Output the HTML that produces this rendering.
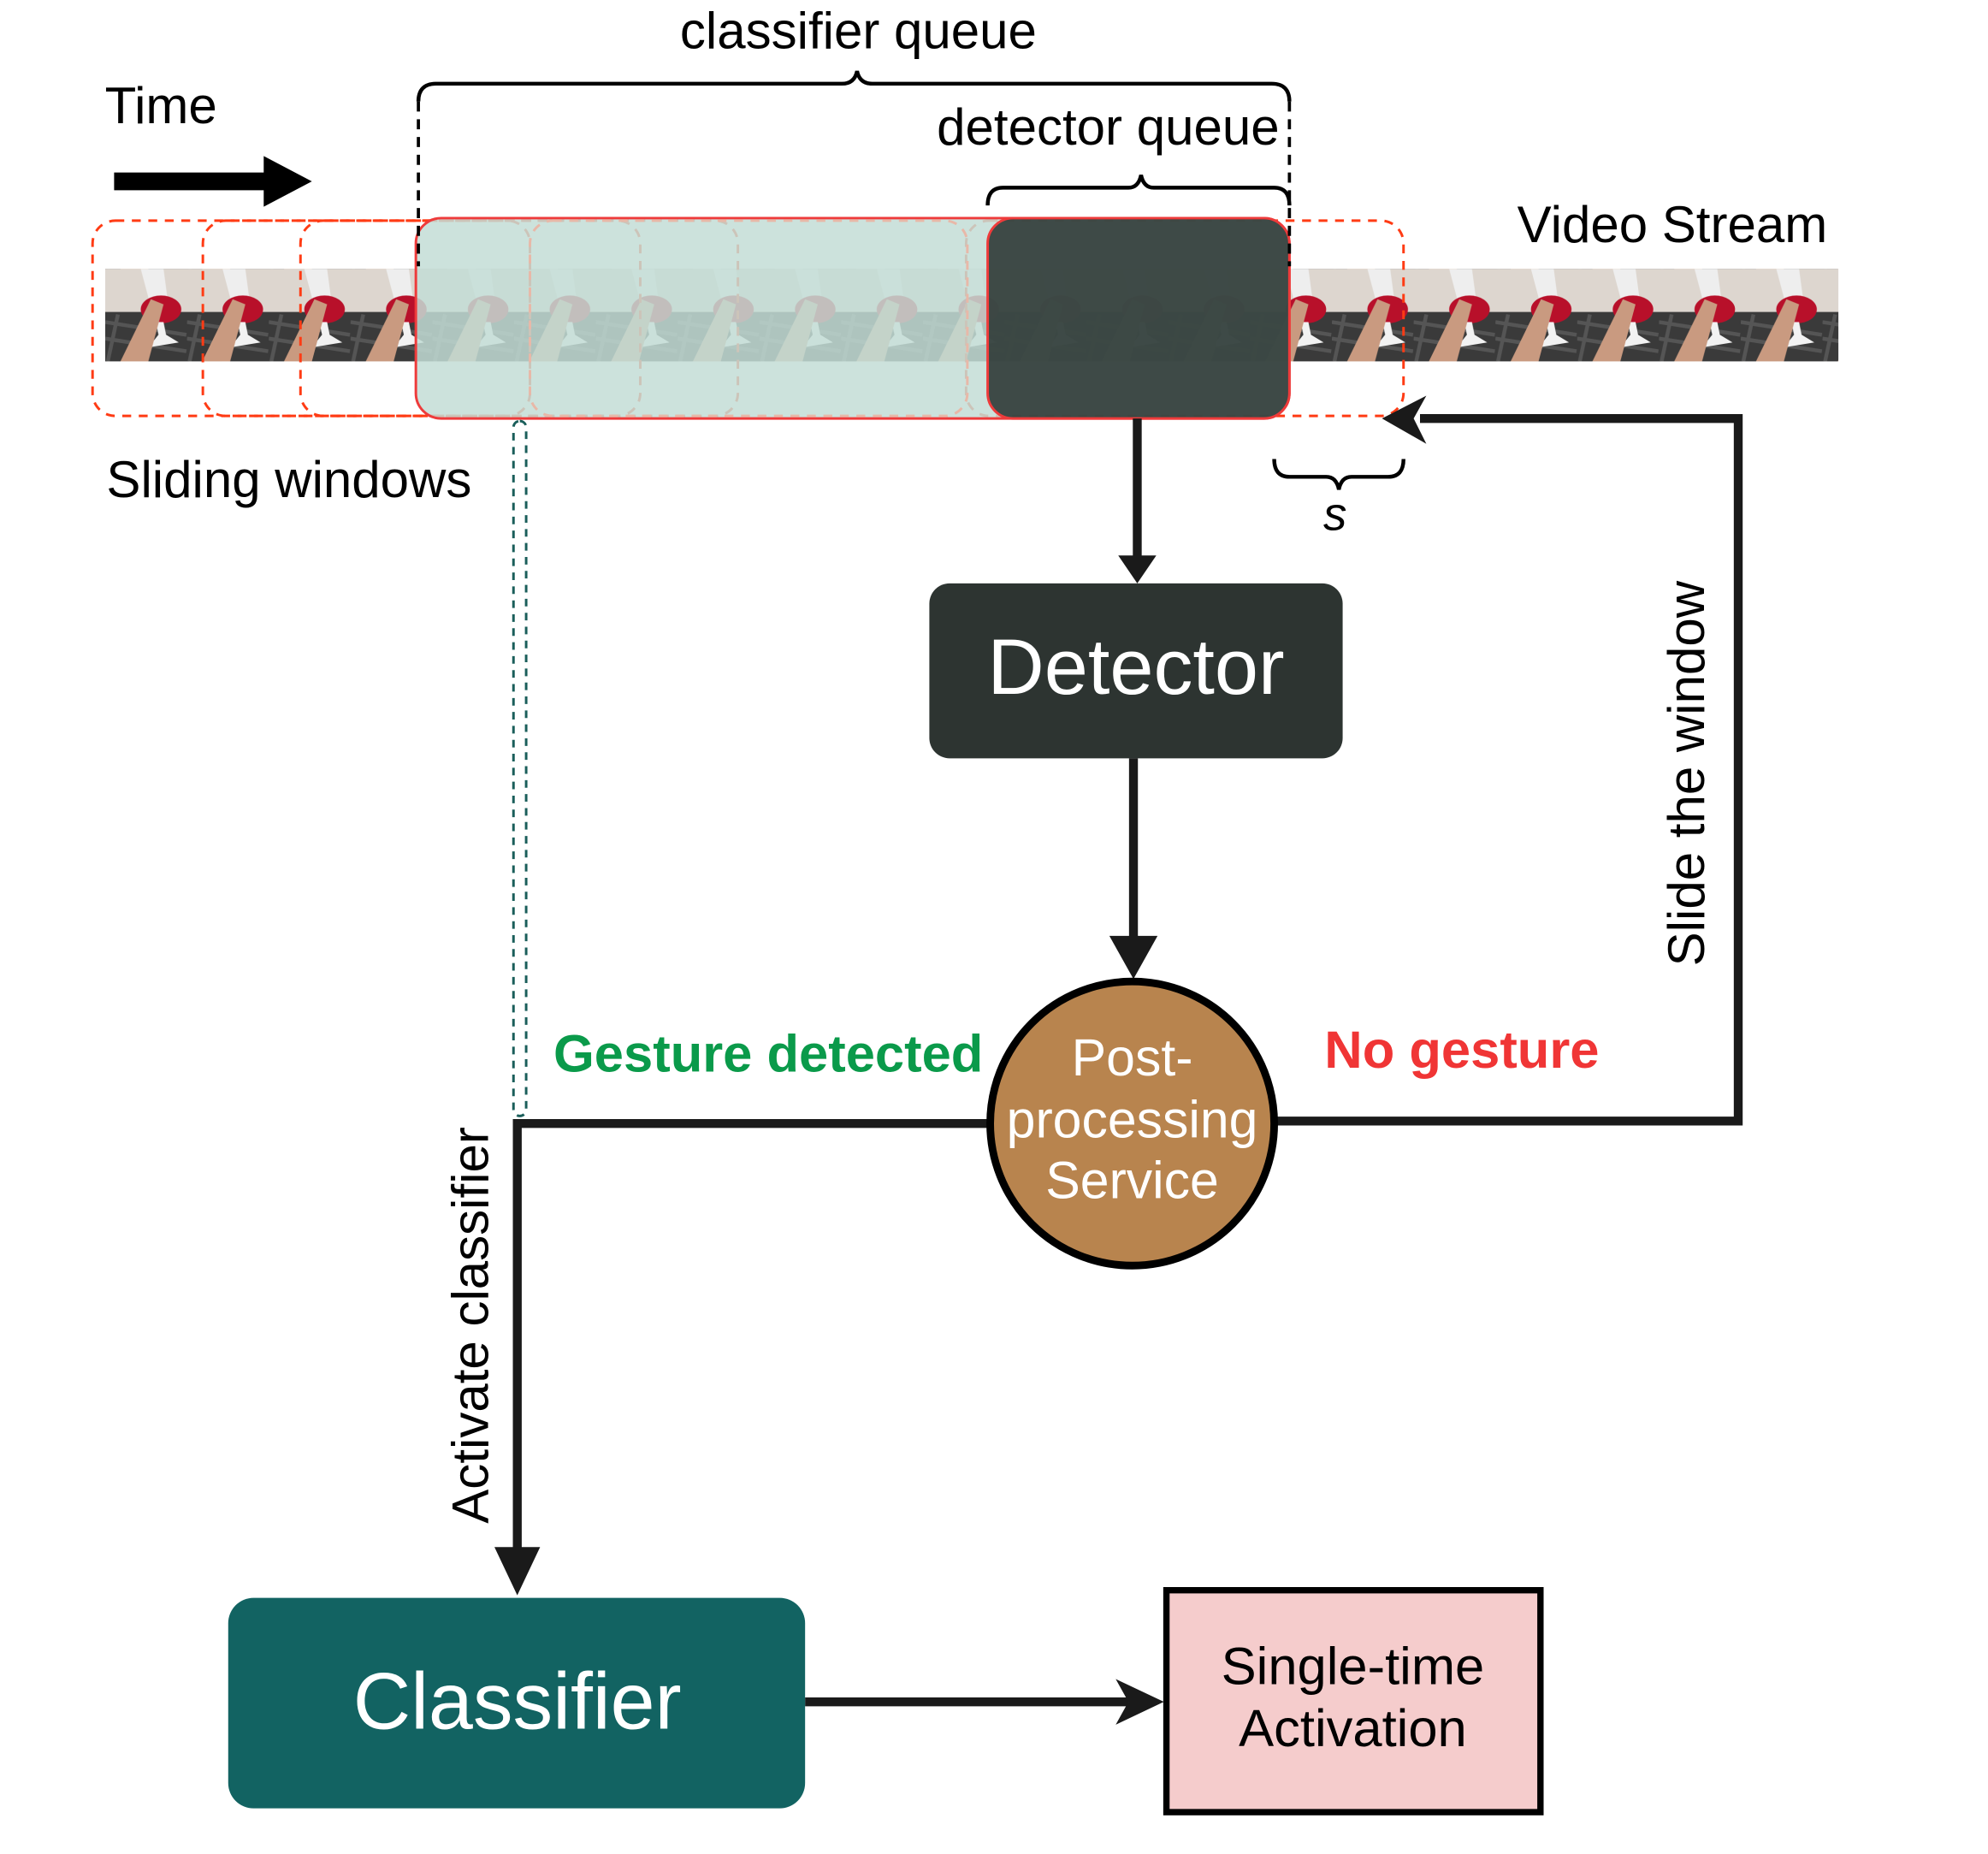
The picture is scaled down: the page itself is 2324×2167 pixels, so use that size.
<!DOCTYPE html>
<html><head><meta charset="utf-8"><style>
html,body{margin:0;padding:0;background:#fff;}
svg{display:block;}
text{font-family:"Liberation Sans",Arial,sans-serif;}
</style></head><body>
<svg width="2324" height="2167" viewBox="0 0 1568 1462" preserveAspectRatio="none" xmlns="http://www.w3.org/2000/svg">
<defs>
<pattern id="fr" x="83" y="212" width="64.5" height="73" patternUnits="userSpaceOnUse">
<rect width="64.5" height="73" fill="#3a3a3a"/>
<rect width="64.5" height="34" fill="#ddd6cf"/>
<path d="M0 42 L64 52 M0 55 L64 65 M10 36 L2 73 M40 36 L30 73" stroke="#555" stroke-width="3"/>
<path d="M28 0 L36 30 L50 30 L46 0 Z" fill="#eee"/>
<ellipse cx="44" cy="32" rx="16" ry="11" fill="#b8102a"/>
<path d="M40 42 L46 42 L48 52 L58 58 L34 62 L42 52 Z" fill="#f2f2f2"/>
<path d="M12 73 L36 24 L46 28 L34 73 Z" fill="#c99a80"/>
</pattern>
</defs>
<rect width="1568" height="1462" fill="#fff"/>

<rect x="83" y="212" width="1367" height="73" fill="url(#fr)"/>

<g fill="none" stroke="#ff3b14" stroke-width="2" stroke-dasharray="7,6">
<rect x="73" y="174" width="345" height="154" rx="18"/>
<rect x="160" y="174" width="345" height="154" rx="18"/>
<rect x="237" y="174" width="345" height="154" rx="18"/>
<rect x="762" y="174" width="345" height="154" rx="18"/>
</g>
<rect x="328" y="172" width="689" height="158" rx="20" fill="#c3ddd6" fill-opacity="0.85" stroke="#ee3b3b" stroke-width="2"/>
<rect x="418" y="174" width="345" height="154" rx="18" fill="none" stroke="#e8b8a8" stroke-width="2" stroke-dasharray="7,6"/>
<rect x="779" y="172" width="238" height="158" rx="20" fill="#2f3a36" fill-opacity="0.9" stroke="#ee3b3b" stroke-width="2"/>

<g fill="none" stroke="#000" stroke-width="3">
<path d="M330 80 Q330 66 344 66 L664 66 Q674 66 676 56 Q678 66 688 66 L1003 66 Q1017 66 1017 80"/>
<path d="M779 162 Q779 148 791 148 L890 148 Q898 148 900 138 Q902 148 910 148 L1005 148 Q1017 148 1017 162"/>
<path d="M1005 362 Q1005 376 1017 376 L1046 376 Q1054 376 1056 386 Q1058 376 1066 376 L1095 376 Q1107 376 1107 362"/>
</g>
<g stroke="#000" stroke-width="2.5" stroke-dasharray="8,6">
<line x1="330" y1="80" x2="330" y2="210"/>
<line x1="1017" y1="80" x2="1017" y2="210"/>
</g>

<text x="677" y="38" font-size="40.5" text-anchor="middle">classifier queue</text>
<text x="127" y="97" font-size="40.5" text-anchor="middle">Time</text>
<text x="874" y="114" font-size="40.5" text-anchor="middle">detector queue</text>
<text x="1319" y="191" font-size="40.5" text-anchor="middle">Video Stream</text>
<text x="228" y="392" font-size="40.5" text-anchor="middle">Sliding windows</text>
<text x="1053" y="418" font-size="37" font-style="italic" text-anchor="middle">s</text>

<line x1="90" y1="143" x2="212" y2="143" stroke="#000" stroke-width="14"/>
<polygon points="208,123 246,143 208,163" fill="#000"/>

<rect x="405" y="332" width="10" height="548" rx="5" fill="none" stroke="#1a5e5a" stroke-width="2" stroke-dasharray="6,5"/>

<g stroke="#1a1a1a" stroke-width="7" fill="none">
<line x1="897" y1="330" x2="897" y2="440"/>
<line x1="894" y1="598" x2="894" y2="745"/>
<polyline points="781,886 408,886 408,1225"/>
<polyline points="1006,884 1371,884 1371,330 1120,330"/>
<line x1="635" y1="1342" x2="890" y2="1342"/>
</g>
<g fill="#1a1a1a">
<polygon points="882,438 912,438 897,460"/>
<polygon points="875,738 913,738 894,772"/>
<polygon points="390,1220 426,1220 408,1258"/>
<polygon points="1125,312 1090,330 1125,350 1115,330"/>
<polygon points="880,1324 918,1342 880,1360 890,1342"/>
</g>

<rect x="733" y="460" width="326" height="138" rx="16" fill="#2d3431"/>
<text x="896" y="547" font-size="62" fill="#fff" text-anchor="middle">Detector</text>

<circle cx="893" cy="886" r="112" fill="#b8844e" stroke="#000" stroke-width="6"/>
<text x="893" y="848" font-size="41" fill="#fff" text-anchor="middle">Post-</text>
<text x="893" y="897" font-size="41" fill="#fff" text-anchor="middle">processing</text>
<text x="893" y="945" font-size="41" fill="#fff" text-anchor="middle">Service</text>

<text x="606" y="845" font-size="41.5" font-weight="bold" fill="#0a9a4a" text-anchor="middle">Gesture detected</text>
<text x="1153" y="842" font-size="41.5" font-weight="bold" fill="#f03535" text-anchor="middle">No gesture</text>

<text transform="translate(1344,610) rotate(-90)" font-size="40.5" text-anchor="middle">Slide the window</text>
<text transform="translate(385,1045) rotate(-90)" font-size="40.5" text-anchor="middle">Activate classifier</text>

<rect x="180" y="1260" width="455" height="166" rx="20" fill="#126362"/>
<text x="408" y="1363" font-size="63" fill="#fff" text-anchor="middle">Classifier</text>

<rect x="920" y="1254" width="295" height="175" fill="#f5cccc" stroke="#000" stroke-width="5"/>
<text x="1067" y="1328" font-size="41.5" text-anchor="middle">Single-time</text>
<text x="1067" y="1377" font-size="41.5" text-anchor="middle">Activation</text>
</svg>
</body></html>
